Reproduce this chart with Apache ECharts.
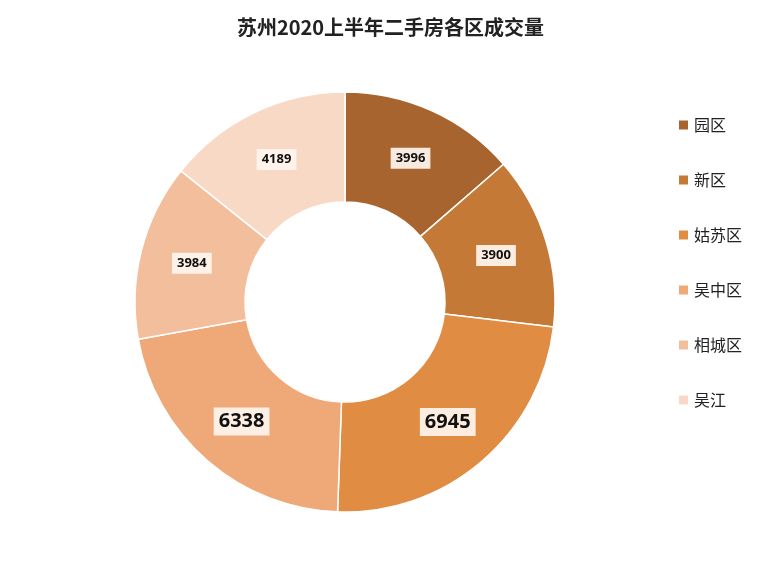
<!DOCTYPE html>
<html><head><meta charset="utf-8">
<script src="https://cdn.jsdelivr.net/npm/echarts@6/dist/echarts.min.js"></script>
<style>body{margin:0;background:#fff}#c{width:781px;height:561px}</style>
</head><body><div id="c"></div>
<script>
var districts = ['园区', '新区', '姑苏区', '吴中区', '相城区', '吴江'];
var volumes = [3996, 3900, 6945, 6338, 3984, 4189];
var colors = ['#A8642E', '#C47A36', '#E08C42', '#EFA878', '#F2BE9C', '#F8D9C6'];

var myChart = echarts.init(document.getElementById('c'));
var option = {
  title: {
    text: '苏州2020上半年二手房各区成交量',
    left: 'center', top: 12,
    textStyle: { fontFamily: 'Noto Sans CJK SC', fontSize: 20, fontWeight: 'bold', color: '#222' }
  },
  legend: {
    orient: 'vertical', left: 672, top: 112, itemGap: 39,
    itemWidth: 11, itemHeight: 11, icon: 'rect',
    data: districts,
    textStyle: { fontFamily: 'Noto Sans CJK SC', fontSize: 16, color: '#222' }
  },
  series: [{
    type: 'pie',
    center: [345, 302],
    radius: [100, 210],
    startAngle: 90,
    clockwise: true,
    itemStyle: { borderColor: '#fff', borderWidth: 1.5 },
    label: {
      position: 'inside',
      formatter: '{c}',
      backgroundColor: 'rgba(255,245,238,0.92)',
      padding: [4, 5],
      fontFamily: 'Noto Sans', fontWeight: 'bold', color: '#111', fontSize: 13
    },
    labelLine: { show: false },
    data: districts.map(function (d, i) {
      var big = volumes[i] > 6000;
      return {
        name: d, value: volumes[i],
        itemStyle: { color: colors[i] },
        label: big ? { fontSize: 20 } : {}
      };
    })
  }]
};
myChart.setOption(option);
</script>
</body></html>
